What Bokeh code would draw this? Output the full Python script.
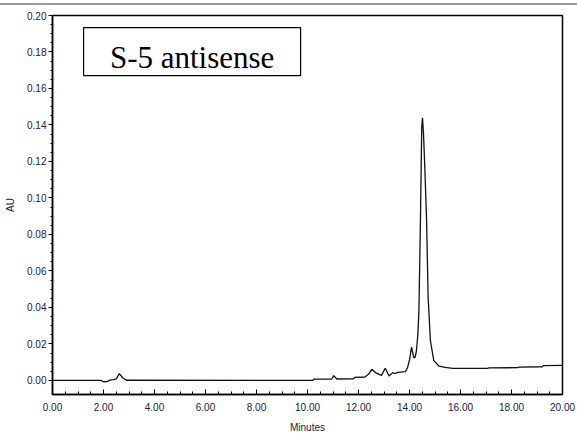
from bokeh.plotting import figure
from bokeh.models import (Range1d, PrintfTickFormatter, FixedTicker, BoxAnnotation, Label, Div)
from bokeh.layouts import column
from bokeh.embed import file_html
from bokeh.resources import INLINE

# Chromatogram trace
minutes = [0.0, 1.9, 2.0, 2.15, 2.25, 2.4, 2.5, 2.62, 2.75, 2.9,
           10.2, 10.25, 10.95, 11.03, 11.15, 11.8, 11.85, 12.25, 12.4, 12.52,
           12.7, 12.9, 13.05, 13.2, 13.34, 13.42, 13.55, 13.84, 13.93, 14.01,
           14.08, 14.17, 14.22, 14.27, 14.33, 14.37, 14.43, 14.48, 14.51, 14.55,
           14.6, 14.67, 14.73, 14.82, 14.95, 15.15, 15.4, 15.7, 17.05, 17.12,
           18.25, 18.3, 19.2, 19.25, 20.0]
au = [0.0, 0.0, -0.0007, -0.0006, 0.0002, 0.0004, 0.0008, 0.0037, 0.0015, 0.0001,
      0.0, 0.0007, 0.0008, 0.0026, 0.0008, 0.0009, 0.0017, 0.0019, 0.0035, 0.0061,
      0.0040, 0.0028, 0.0067, 0.0024, 0.0043, 0.0038, 0.0044, 0.0048, 0.0073, 0.0119,
      0.0183, 0.0124, 0.0128, 0.0160, 0.0257, 0.0384, 0.0886, 0.1388, 0.1439, 0.1350,
      0.1170, 0.0877, 0.0457, 0.0219, 0.0110, 0.0079, 0.0072, 0.0066, 0.0066, 0.0069,
      0.0070, 0.0073, 0.0075, 0.0081, 0.0083]

x_ticks = [0, 2, 4, 6, 8, 10, 12, 14, 16, 18, 20]
y_ticks = [0.0, 0.02, 0.04, 0.06, 0.08, 0.10, 0.12, 0.14, 0.16, 0.18, 0.20]
title_text = "S-5 antisense"
box_x = (1.22, 9.73)
box_y = (0.1671, 0.1934)
title_y = 0.1768

p = figure(width=577, height=433, output_backend="svg", toolbar_location=None,
           x_range=Range1d(0, 20), y_range=Range1d(-0.0077, 0.20),
           min_border_left=52, min_border_right=15, min_border_top=10, min_border_bottom=44)
p.background_fill_color = "white"
p.border_fill_color = "white"
p.outline_line_color = "black"
p.outline_line_width = 1.5
p.grid.visible = False

p.line(minutes, au, line_color="#111111", line_width=1.3)

tick_color = "#20203a"
for ax in (p.xaxis[0], p.yaxis[0]):
    ax.axis_line_color = "black"
    ax.axis_line_width = 1.5
    ax.major_label_text_font = "Liberation Sans"
    ax.major_label_text_font_size = "10px"
    ax.major_label_text_color = tick_color
    ax.axis_label_text_font = "Liberation Sans"
    ax.axis_label_text_font_size = "10px"
    ax.axis_label_text_font_style = "normal"
    ax.axis_label_text_color = tick_color
    ax.major_tick_line_color = "black"
    ax.minor_tick_line_color = "black"
    ax.formatter = PrintfTickFormatter(format="%.2f")

p.xaxis.ticker = FixedTicker(ticks=x_ticks, minor_ticks=[i * 0.5 for i in range(41)])
p.yaxis.ticker = FixedTicker(ticks=y_ticks, minor_ticks=[i * 0.005 for i in range(41)])
p.xaxis.axis_label = "Minutes"
p.yaxis.axis_label = "AU"

p.xaxis.major_tick_in = 5
p.xaxis.major_tick_out = 0
p.xaxis.minor_tick_in = 3
p.xaxis.minor_tick_out = 0
p.xaxis.major_label_standoff = 8
p.xaxis.axis_label_standoff = 8

p.yaxis.major_tick_in = 0
p.yaxis.major_tick_out = 4
p.yaxis.minor_tick_in = 0
p.yaxis.minor_tick_out = 2
p.yaxis.major_label_standoff = 2
p.yaxis.axis_label_standoff = 8

p.add_layout(BoxAnnotation(left=box_x[0], right=box_x[1], bottom=box_y[0], top=box_y[1],
                           fill_color="white", fill_alpha=1.0,
                           line_color="black", line_alpha=1.0, line_width=1.2))
p.add_layout(Label(x=(box_x[0] + box_x[1]) / 2, y=title_y, text=title_text,
                   text_font="Liberation Serif", text_font_size="31px", text_color="black",
                   text_align="center", text_baseline="middle"))

# grey rule at the top of the page
rule = Div(text="", width=577, height=2, margin=(3, 0, 0, 0),
           styles={"background-color": "#9a9a9a"})

layout = column(rule, p, spacing=0)
open("out.html", "w").write(file_html(layout, INLINE))
